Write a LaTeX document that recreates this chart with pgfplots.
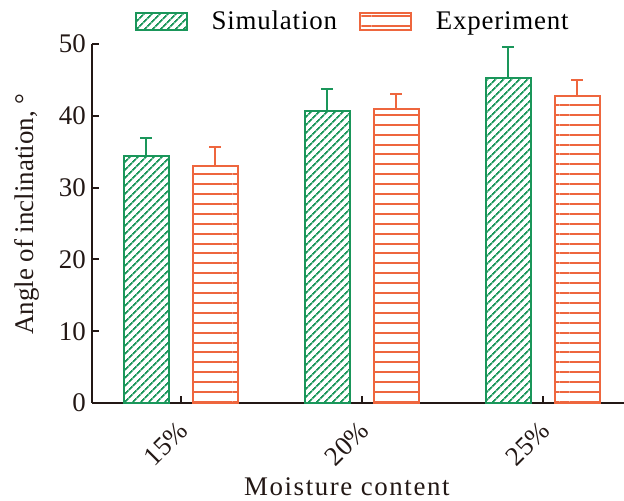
\documentclass[border=0pt]{standalone}
\usepackage{fontspec}
\setmainfont{Liberation Serif}
\usepackage{pgfplots}
\pgfplotsset{compat=1.18}
\usetikzlibrary{patterns.meta}
\definecolor{simgreen}{RGB}{26,150,90}
\definecolor{exporange}{RGB}{238,102,62}
\definecolor{axblack}{RGB}{35,24,21}
\pgfplotsset{mylegend/.style={legend image code/.code={\draw[##1,line width=2bp] (0bp,-8.5bp) rectangle (51bp,8.5bp);}}}
\begin{document}
\begin{tikzpicture}
\useasboundingbox (0,0) rectangle (624bp,501bp);
\begin{axis}[
  at={(92bp,98bp)}, anchor=south west,
  scale only axis, width=532bp, height=359bp,
  xmin=-0.49, xmax=2.45, ymin=0, ymax=50,
  axis x line*=bottom, axis y line*=left,
  axis line style={line width=2.2bp, color=axblack, -},
  ybar=24bp, bar width=45bp,
  xtick={0,1,2}, xticklabels={15\%,20\%,25\%},
  ytick={0,10,20,30,40,50},
  tick align=inside, major tick length=7bp,
  tick style={line width=2bp, color=axblack},
  /pgf/number format/assume math mode=true,
  tick label style={font=\fontsize{27}{30}\selectfont, text=axblack},
  yticklabel style={inner sep=0pt, xshift=-6bp},
  xticklabel style={rotate=45, anchor=north east, inner sep=0pt, yshift=-9bp, xshift=-14bp},
  xlabel={Moisture content}, ylabel={Angle of inclination, °},
  label style={font=\fontsize{27}{30}\selectfont, text=axblack},
  xlabel style={at={(axis description cs:0.479,-0.233)}, anchor=center, font=\fontsize{27}{30}\selectfont\addfontfeature{LetterSpace=6}},
  ylabel style={at={(axis description cs:-0.122,0.526)}, anchor=center},
  legend style={at={(axis description cs:0.49,1.064)}, anchor=center, draw=none, fill=none,
    legend columns=2, font=\fontsize{27}{30}\selectfont\addfontfeature{LetterSpace=3}, nodes={inner sep=2bp},
    /tikz/every odd column/.append style={column sep=22bp},
    /tikz/every even column/.append style={column sep=20bp}},
  clip=false,
]
\addplot[draw=simgreen, line width=2bp,
  pattern={Lines[angle=45,distance=6bp,line width=2bp]}, pattern color=simgreen,
  mylegend,
  error bars/.cd, y dir=plus, y explicit,
  error bar style={line width=2bp, simgreen, solid},
  error mark options={rotate=90, mark size=6bp, line width=2bp, simgreen}]
  coordinates {(0,34.4) +- (0,2.5) (1,40.7) +- (0,3.1) (2,45.2) +- (0,4.4)};
\addplot[draw=exporange, line width=2bp,
  pattern={Lines[angle=0,distance=9.9bp,line width=2bp]}, pattern color=exporange,
  mylegend,
  error bars/.cd, y dir=plus, y explicit,
  error bar style={line width=2bp, exporange, solid},
  error mark options={rotate=90, mark size=6bp, line width=2bp, exporange}]
  coordinates {(0,33.0) +- (0,2.6) (1,41.0) +- (0,2.0) (2,42.8) +- (0,2.2)};
\legend{Simulation, Experiment}
\end{axis}
\end{tikzpicture}
\end{document}
